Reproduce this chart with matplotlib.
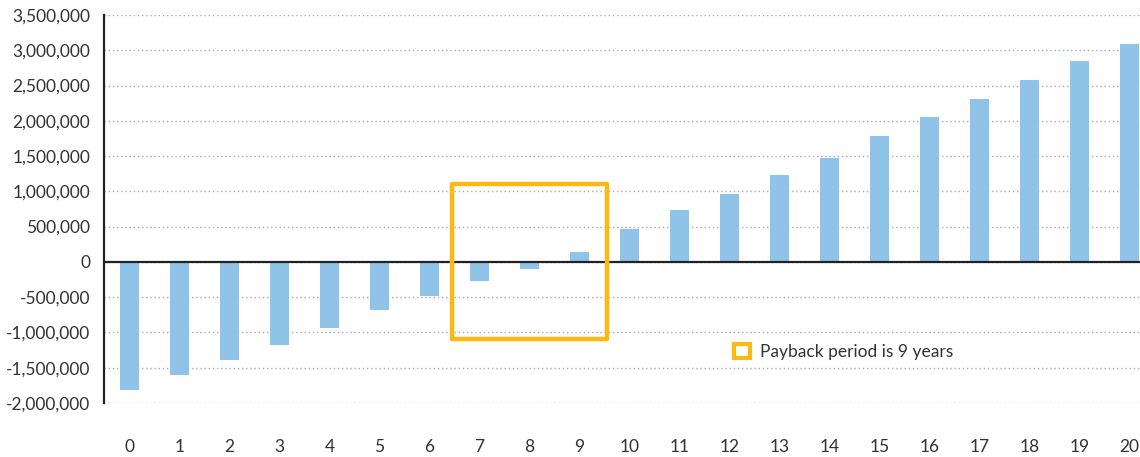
import numpy as np
import matplotlib.pyplot as plt
from matplotlib.patches import Rectangle, Patch
from matplotlib.ticker import FuncFormatter

# cumulative cash flow per year
years = list(range(0, 21))
cash_flow = [-1815000, -1600000, -1390000, -1180000, -940000, -680000, -480000,
             -270000, -100000, 140000, 470000, 740000, 965000, 1230000, 1475000,
             1787000, 2057000, 2310000, 2580000, 2850000, 3090000]
y_ticks = list(range(-2000000, 3500001, 500000))
payback_label = 'Payback period is 9 years'

bar_color = '#8fc3e8'
box_color = '#fdb913'
text_color = '#333333'

plt.rcParams['font.family'] = ['Lato', 'DejaVu Sans']

fig = plt.figure(figsize=(11.4, 4.57), dpi=100)
ax = fig.add_axes([0.0912, 0.1182, 0.9088, 0.849])

ax.bar(years, cash_flow, width=0.38, color=bar_color, zorder=2)

ax.set_xlim(-0.51, 20.21)
ax.set_ylim(-2000000, 3500000)
ax.set_yticks(y_ticks)
ax.yaxis.set_major_formatter(FuncFormatter(lambda v, p: f'{int(v):,}'))
ax.set_xticks(years)

ax.grid(axis='y', linestyle=(0, (1, 2)), color='#aaaaaa', linewidth=1, zorder=0)
ax.axhline(0, color='#222222', linewidth=1.6, zorder=3)

for s in ['top', 'right', 'bottom']:
    ax.spines[s].set_visible(False)
ax.spines['left'].set_linewidth(1.6)
ax.spines['left'].set_color('#222222')

ax.tick_params(axis='both', length=0, labelsize=12.5, labelcolor=text_color)
ax.tick_params(axis='x', pad=26)
ax.tick_params(axis='y', pad=10)

# payback box around years 7-9
ax.add_patch(Rectangle((6.45, -1100000), 3.1, 2200000, fill=False,
                       edgecolor=box_color, linewidth=3.2, joinstyle='round',
                       zorder=4))

handle = Patch(facecolor='white', edgecolor=box_color, linewidth=3)
ax.legend([handle], [payback_label], loc='center left',
          bbox_to_anchor=(0.608, 0.131), frameon=False, fontsize=12.5,
          handlelength=0.9, handleheight=0.9, handletextpad=0.6,
          borderpad=0, borderaxespad=0, labelcolor=text_color)

fig.savefig('out.png', dpi=100)
